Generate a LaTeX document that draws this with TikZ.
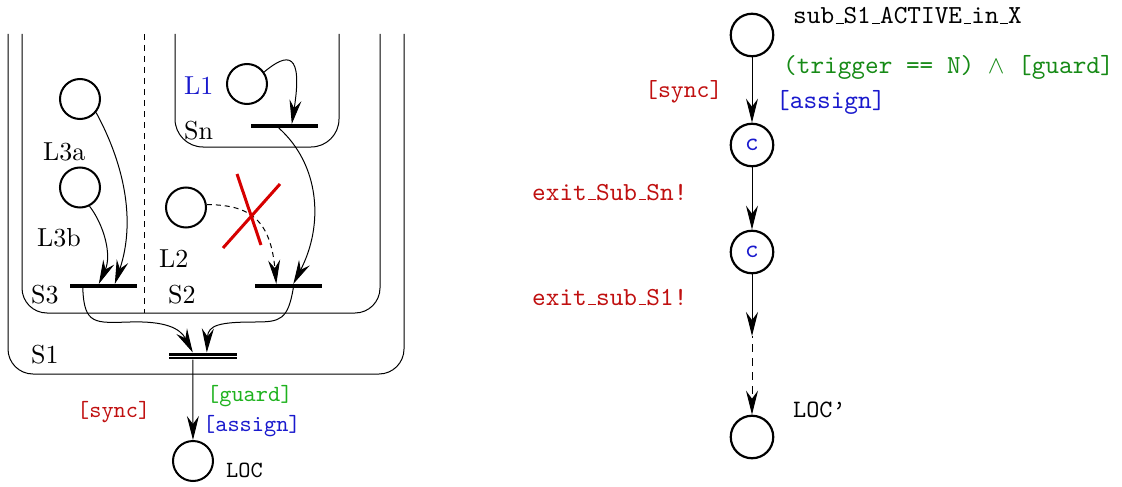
\documentclass[tikz,border=0pt]{standalone}
\usepackage{fontspec}
\usetikzlibrary{arrows.meta}
% the 10pt design sizes of Latin Modern, scaled up
\newfontfamily\rmten{lmroman10-regular}[Extension=.otf, Ligatures=TeX]
\newfontfamily\ttten{lmmono10-regular}[Extension=.otf]
% low, short underscore rule as in the classic OT1 typewriter setting
\newcommand\lowbar{\leavevmode\kern.06em\vbox{\hrule height 1.1pt width.3em}}
\definecolor{lblred}{RGB}{192,16,16}
\definecolor{crossred}{RGB}{214,0,0}
\definecolor{lblblue}{RGB}{25,25,205}
\definecolor{guardgreen}{RGB}{30,178,30}
\definecolor{trigreen}{RGB}{22,138,22}
\begin{document}
\begin{tikzpicture}[x=1pt,y=-1pt,
  lbl/.style={inner sep=0pt, anchor=base west},
  rmtxt/.style={lbl, font=\fontsize{26}{30}\selectfont\rmten},
  ttl/.style={lbl, font=\fontsize{23.2}{27}\selectfont\ttten},
  ttr/.style={lbl, font=\fontsize{26}{30}\selectfont\ttten},
  state/.style={circle, draw, line width=2pt, minimum size=40pt, inner sep=0pt},
  rstate/.style={state, line width=2.2pt, minimum size=42.5pt,
                 font=\fontsize{26}{30}\selectfont\ttten\color{lblblue}},
  bar/.style={rectangle, fill=black, minimum width=67pt, minimum height=3.6pt, inner sep=0pt},
  dbar/.style={rectangle, fill=black, minimum width=68pt, minimum height=6.6pt, inner sep=0pt,
               path picture={\draw[white, line width=0.9pt]
                 (path picture bounding box.west) -- (path picture bounding box.east);}},
  arr/.style={line width=1pt, -{Stealth[length=24pt,width=12pt,inset=8pt]}},
  frame/.style={line width=1pt},
]
\useasboundingbox (0,0) rectangle (1122,487);

% ---------- nested superstates ----------
\draw[frame, rounded corners=25pt] (8,34) -- (8,374) -- (404,374) -- (404,34);
\draw[frame, rounded corners=25pt] (22,34) -- (22,313) -- (380,313) -- (380,34);
\draw[frame, rounded corners=28pt] (175,34) -- (175,147) -- (339,147) -- (339,34);
\draw[frame, dash pattern=on 6pt off 5pt] (144,34) -- (144,313);

% ---------- locations ----------
\node[state] (c1)  at (80,99) {};
\node[state] (c2)  at (80,187.5) {};
\node[state] (l1c) at (247,84) {};
\node[state] (l2c) at (186,207.5) {};
\node[state] (loc) at (193,461) {};

% ---------- synchronisation bars ----------
\node[bar]  (snbar) at (284.5,126) {};
\node[bar]  (s3bar) at (103.5,286) {};
\node[bar]  (s2bar) at (288,286) {};
\node[dbar] (s1bar) at (203,356) {};

% ---------- labels of the superstates ----------
\node[rmtxt, text=lblblue] (tl1) at (184,95) {L1};
\node[rmtxt] (tsn)  at (184,139) {Sn};
\node[rmtxt] (tl3a) at (43,160)  {L3a};
\node[rmtxt] (tl3b) at (37,246)  {L3b};
\node[rmtxt] (tl2)  at (159,267) {L2};
\node[rmtxt] (ts3)  at (31,303)  {S3};
\node[rmtxt] (ts2)  at (168,303) {S2};
\node[rmtxt] (ts1)  at (31,363)  {S1};

% ---------- transitions inside ----------
\draw[arr] (c1.-40) .. controls (122,160) and (137,218) .. ([xshift=45pt]s3bar.north west);
\draw[arr] (c2.-63) .. controls (104,225) and (112,255) .. ([xshift=29pt]s3bar.north west);
\draw[arr] (l1c.35) .. controls (288,52) and (303,52) .. ([xshift=41pt]snbar.north west);
\draw[arr] ([xshift=28pt]snbar.south west) .. controls (320,165) and (324,225) .. ([xshift=39pt]s2bar.north west);
\draw[arr, dash pattern=on 5pt off 4pt] (l2c.8) .. controls (245,205) and (270,215) .. ([xshift=22pt]s2bar.north west);

% blocked transition
\draw[crossred, line width=3pt] (237,174) -- (261,245);
\draw[crossred, line width=3pt] (280,184) -- (223,248);

% joins into the outer bar
\coordinate (j3) at (130,322);
\coordinate (j2) at (255,322);
\draw[arr] ([xshift=13pt]s3bar.south west) .. controls (84,325) and (95,323) .. (j3)
           .. controls (165,321) and (180,328) .. ([xshift=24pt]s1bar.north west);
\draw[arr] ([xshift=39pt]s2bar.south west) .. controls (288,320) and (280,322) .. (j2)
           .. controls (220,322) and (208,325) .. ([xshift=38pt]s1bar.north west);

% exit transition
\draw[arr] ([xshift=24pt]s1bar.south west) -- (loc);
\node[ttl, text=guardgreen] (lguard)  at (207,401) {[guard]};
\node[ttl, text=lblblue]    (lassign) at (203,431) {[assign]};
\node[ttl, text=lblred]     (lsync)   at (77,417)  {[sync]};
\node[ttl]                  (lloc)    at (226,477) {LOC};

% ---------- flattened chain ----------
\node[rstate] (top)  at (752,35)  {};
\node[rstate] (ca)   at (752,145) {c};
\node[rstate] (cb)   at (752,252) {c};
\node[rstate] (locp) at (752,437) {};
\coordinate (gap) at (752,336);

\draw[arr] (top) -- (ca);
\draw[arr] (ca) -- (cb);
\draw[arr] (cb) -- (gap);
\draw[arr, dash pattern=on 8pt off 6pt, dash phase=6pt] (gap) -- (locp);

\node[ttr] (tname) at (793,24) {sub\lowbar S1\lowbar ACTIVE\lowbar in\lowbar X};
\node[ttr, text=trigreen] (ttrig) at (783,74) {(trigger == N) $\wedge$ [guard]};
\node[ttr, text=lblblue]  (tassign) at (776,108) {[assign]};
\node[ttr, text=lblred, font=\fontsize{24.5}{28}\selectfont\ttten] (tsync) at (645,97) {[sync]};
\node[ttr, text=lblred]   (texsn) at (532,200) {exit\lowbar Sub\lowbar Sn!};
\node[ttr, text=lblred]   (texs1) at (532,305) {exit\lowbar sub\lowbar S1!};
\node[ttr, font=\fontsize{25}{29}\selectfont\ttten] (tlocp) at (793,417) {LOC’};
\end{tikzpicture}
\end{document}
